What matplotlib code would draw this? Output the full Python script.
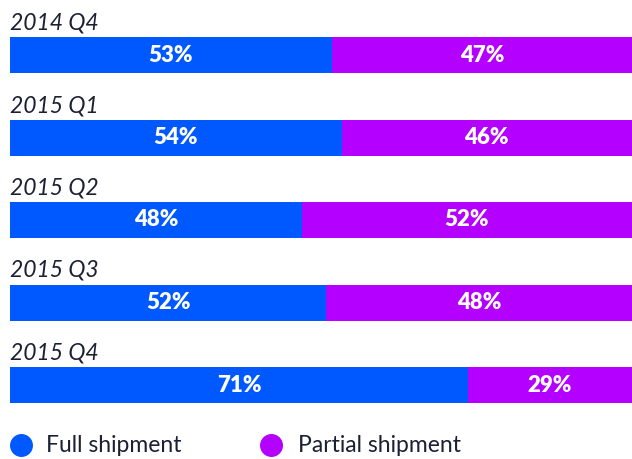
import matplotlib
matplotlib.use("Agg")
import matplotlib.pyplot as plt

periods = ["2014 Q4", "2015 Q1", "2015 Q2", "2015 Q3", "2015 Q4"]
# printed labels
full_pct = [53, 54, 48, 52, 71]
partial_pct = [47, 46, 52, 48, 29]
# bar lengths as drawn in the picture (share of full bar width)
full_share = [51.7, 53.3, 46.9, 50.8, 73.6]
series_names = ["Full shipment", "Partial shipment"]

blue = "#0058ff"
purple = "#b300ff"
dark = "#1b2033"

W, H = 632, 459
fig = plt.figure(figsize=(W / 100, H / 100), dpi=100)
ax = fig.add_axes([10 / W, 0, 622 / W, 1])

unit = 82.5  # px between bar centres
top_px = 55
ax.set_ylim((H - top_px) / unit, -top_px / unit)
ax.set_xlim(0, 100)
ax.axis("off")

ys = list(range(len(periods)))
partial_share = [100 - f for f in full_share]
h = 36 / unit
ax.barh(ys, full_share, height=h, color=blue)
ax.barh(ys, partial_share, left=full_share, height=h, color=purple)

for y, name, fs, f, p in zip(ys, periods, full_share, full_pct, partial_pct):
    ax.text(0, y - 32 / unit, name, ha="left", va="center", fontsize=16.5,
            family="Lato", style="italic", color=dark)
    ax.text(fs / 2, y, f"{f}%", ha="center", va="center", fontsize=16,
            family="Lato", weight="heavy", color="white")
    ax.text(fs + (100 - fs) / 2, y, f"{p}%", ha="center", va="center", fontsize=16,
            family="Lato", weight="heavy", color="white")

ly = 4 + (445 - 385) / unit
for xm, xt, c, name in [(21, 46, blue, series_names[0]), (271, 298, purple, series_names[1])]:
    ax.plot([(xm - 10) / 6.22], [ly], "o", ms=15.5, color=c, clip_on=False)
    ax.text((xt - 10) / 6.22, ly, name, ha="left", va="center", fontsize=16.5,
            family="Lato", color=dark)

fig.savefig("out.png", dpi=100)
